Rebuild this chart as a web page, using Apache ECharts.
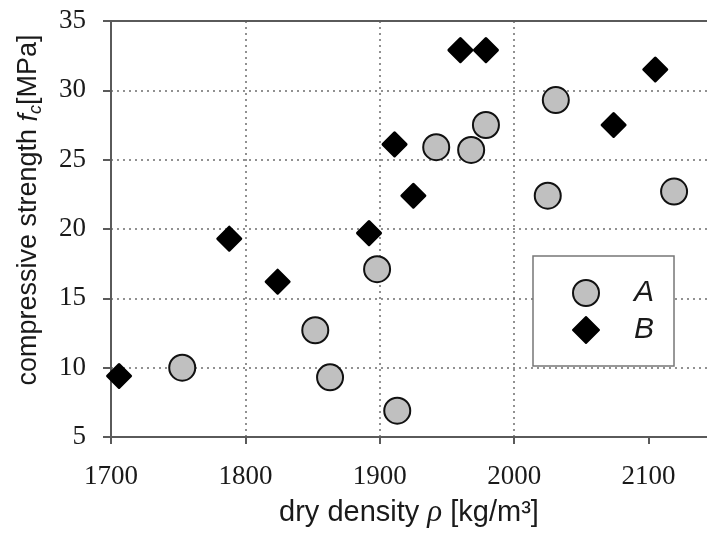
<!DOCTYPE html>
<html>
<head>
<meta charset="utf-8">
<script src="https://cdn.jsdelivr.net/npm/echarts@6/dist/echarts.min.js"></script>
<style>
html,body{margin:0;padding:0;background:#fff;}
#chart{width:707px;height:534px;}
</style>
</head>
<body>
<div id="chart"></div>
<script>
// Series A: [dry density, compressive strength]
const seriesA_density = [1753, 1852, 1863, 1898, 1913, 1942, 1968, 1979, 2025, 2031, 2119];
const seriesA_strength = [10.0, 12.7, 9.3, 17.1, 6.9, 25.9, 25.7, 27.5, 22.4, 29.3, 22.7];
// Series B
const seriesB_density = [1706, 1788, 1824, 1892, 1911, 1925, 1960, 1979, 2074, 2105];
const seriesB_strength = [9.4, 19.3, 16.2, 19.7, 26.1, 22.4, 32.9, 32.9, 27.5, 31.5];
const seriesNames = ['A', 'B'];
const xTicks = [1700, 1800, 1900, 2000, 2100];
const yTicks = [5, 10, 15, 20, 25, 30, 35];
const xMax = 2143.5; // plot is cut at the right edge of the picture

const pairs = (xs, ys) => xs.map((x, i) => [x, ys[i]]);

const chart = echarts.init(document.getElementById('chart'), null, {renderer: 'canvas'});
const axisColor = '#5a5a5a';
const textColor = '#1a1a1a';
const gridLine = {show: true, showMaxLine: false, showMinLine: false, lineStyle: {color: '#6e6e6e', width: 1.5, type: [2, 4]}};

chart.setOption({
  animation: false,
  backgroundColor: '#fff',
  grid: {left: 111, top: 21, bottom: 97, right: 0},
  xAxis: [{
    type: 'value', min: xTicks[0], max: xMax, interval: 100,
    axisLine: {show: true, onZero: false, lineStyle: {color: axisColor, width: 2}},
    axisTick: {show: true, inside: false, length: 7, customValues: xTicks, lineStyle: {color: axisColor, width: 2}},
    axisLabel: {fontFamily: 'Liberation Serif', fontSize: 27, color: textColor, margin: 26, customValues: xTicks,
      formatter: v => String(v)},
    splitLine: gridLine,
    name: 'dry density {rho|ρ} [kg/m³]',
    nameLocation: 'middle', nameGap: 60,
    nameTextStyle: {fontFamily: 'Liberation Sans', fontSize: 29, color: textColor, padding: [0, 0, 0, 0],
      rich: {rho: {fontFamily: 'Liberation Serif', fontStyle: 'italic', fontSize: 31, color: textColor}}}
  }, {
    type: 'value', position: 'top', min: xTicks[0], max: xMax,
    axisLine: {show: true, onZero: false, lineStyle: {color: axisColor, width: 2}},
    axisTick: {show: false}, axisLabel: {show: false}, splitLine: {show: false}
  }],
  yAxis: {
    type: 'value', min: yTicks[0], max: yTicks[yTicks.length - 1], interval: 5,
    axisLine: {show: true, onZero: false, lineStyle: {color: axisColor, width: 2}},
    axisTick: {show: true, inside: false, length: 8, lineStyle: {color: axisColor, width: 2}},
    axisLabel: {fontFamily: 'Liberation Serif', fontSize: 27, color: textColor, margin: 25},
    splitLine: gridLine,
    name: '{t|compressive strength }{f|f}{c|c}{t|[MPa]}',
    nameLocation: 'middle', nameGap: 66, nameRotate: 90,
    nameTextStyle: {padding: [0, 0, 0, 38],
      rich: {
        t: {fontFamily: 'Liberation Sans', fontSize: 27, color: textColor, lineHeight: 32},
        f: {fontFamily: 'Liberation Sans', fontStyle: 'italic', fontSize: 27, color: textColor, lineHeight: 32},
        c: {fontFamily: 'Liberation Sans', fontStyle: 'italic', fontSize: 18, color: textColor, lineHeight: 20, verticalAlign: 'bottom'}
      }}
  },
  legend: {
    show: true, orient: 'vertical', left: 533, top: 256,
    backgroundColor: '#fff', borderColor: '#777', borderWidth: 1.5,
    padding: [22, 20, 21, 39], itemGap: 7, itemWidth: 26, itemHeight: 26,
    data: seriesNames,
    textStyle: {fontFamily: 'Liberation Sans', fontStyle: 'italic', fontSize: 30, color: textColor, lineHeight: 30, padding: [0, 0, 0, 30]}
  },
  series: [
    {name: seriesNames[0], type: 'scatter', xAxisIndex: 0, data: pairs(seriesA_density, seriesA_strength),
      symbol: 'circle', symbolSize: 26,
      itemStyle: {color: '#c0c0c0', borderColor: '#111', borderWidth: 2, opacity: 1}},
    {name: seriesNames[1], type: 'scatter', xAxisIndex: 0, data: pairs(seriesB_density, seriesB_strength),
      symbol: 'diamond', symbolSize: 23,
      itemStyle: {color: '#000', borderColor: '#000', borderWidth: 3, borderJoin: 'round', opacity: 1}}
  ]
});
</script>
</body>
</html>
